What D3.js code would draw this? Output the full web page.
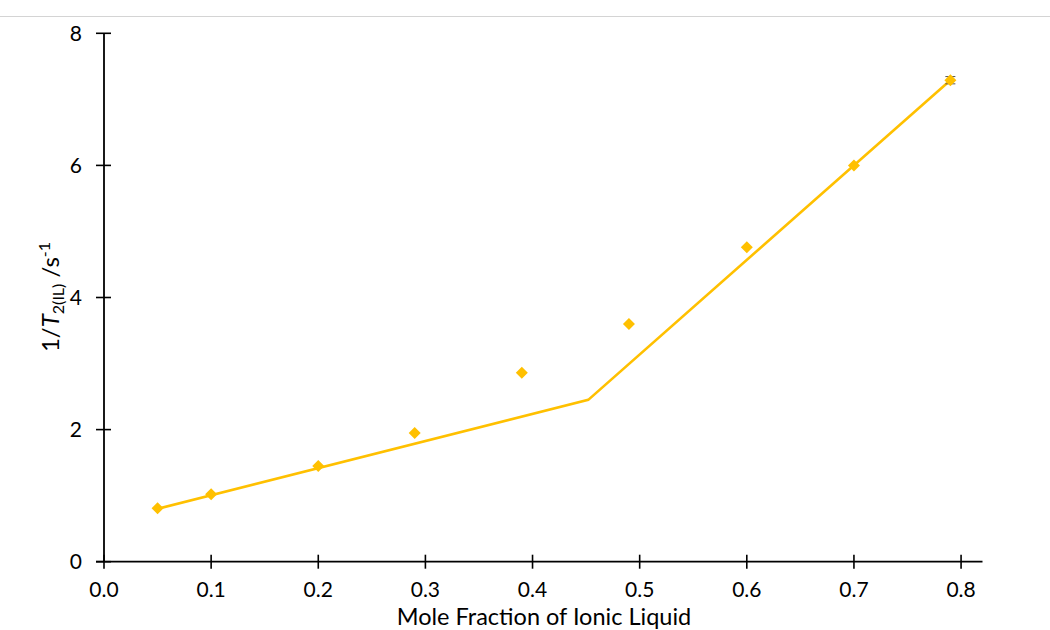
<!DOCTYPE html>
<html>
<head>
<meta charset="utf-8">
<script src="https://cdn.jsdelivr.net/npm/d3@7"></script>
<style>
  body { margin: 0; background: white; }
  text { font-family: Lato, "Open Sans", sans-serif; }
</style>
</head>
<body>
<div id="container"></div>
<script>
// measured points
const moleFraction = [0.05, 0.10, 0.20, 0.29, 0.39, 0.49, 0.60, 0.70, 0.79];
const invT2 = [0.81, 1.02, 1.45, 1.95, 2.86, 3.60, 4.76, 6.00, 7.29];
const invT2Err = [0, 0, 0, 0, 0, 0, 0, 0, 0.055];

// two-segment fit line
const fitX = [0.05, 0.452, 0.79];
const fitY = [0.80, 2.45, 7.29];

const xTicks = [0, 0.1, 0.2, 0.3, 0.4, 0.5, 0.6, 0.7, 0.8];
const yTicks = [0, 2, 4, 6, 8];

let w = 1050;
let h = 630;
const gold = "#FFC000";

let viz = d3.select("#container").append("svg")
    .attr("width", w)
    .attr("height", h)
    .style("display", "block");

// faint rule at the very top
viz.append("line")
    .attr("x1", 0).attr("x2", w)
    .attr("y1", 16.5).attr("y2", 16.5)
    .attr("stroke", "#d4d4d4")
    .attr("stroke-width", 1);

let x = d3.scaleLinear().domain([0, 0.82]).range([104, 982.5]);
let y = d3.scaleLinear().domain([0, 8]).range([561.7, 33.3]);

// axes
let xAxis = viz.append("g")
    .attr("transform", "translate(0," + y(0) + ")");
xAxis.append("line")
    .attr("x1", x(0) - 8).attr("x2", x.range()[1])
    .attr("stroke", "black").attr("stroke-width", 1.8);
xAxis.selectAll(".xt").data(xTicks).enter()
  .append("line")
    .attr("class", "xt")
    .attr("x1", d => x(d)).attr("x2", d => x(d))
    .attr("y1", -7).attr("y2", 7)
    .attr("stroke", "black").attr("stroke-width", 1.6);
xAxis.selectAll(".xl").data(xTicks).enter()
  .append("text")
    .attr("class", "xl")
    .attr("x", d => x(d))
    .attr("y", 35)
    .attr("text-anchor", "middle")
    .style("font-size", "21px")
    .text(d => d3.format(".1f")(d));

let yAxis = viz.append("g")
    .attr("transform", "translate(" + x(0) + ",0)");
yAxis.append("line")
    .attr("y1", y(8)).attr("y2", y(0))
    .attr("stroke", "black").attr("stroke-width", 1.8);
yAxis.selectAll(".yt").data(yTicks).enter()
  .append("line")
    .attr("class", "yt")
    .attr("y1", d => y(d)).attr("y2", d => y(d))
    .attr("x1", -8).attr("x2", 7)
    .attr("stroke", "black").attr("stroke-width", 1.6);
yAxis.selectAll(".yl").data(yTicks).enter()
  .append("text")
    .attr("class", "yl")
    .attr("x", -22)
    .attr("y", d => y(d))
    .attr("dy", "0.36em")
    .attr("text-anchor", "end")
    .style("font-size", "21px")
    .text(d => d);

// axis titles
viz.append("text")
    .attr("x", 544)
    .attr("y", 625)
    .attr("text-anchor", "middle")
    .style("font-size", "23.5px")
    .text("Mole Fraction of Ionic Liquid");

let yTitle = viz.append("text")
    .attr("transform", "translate(59,297) rotate(-90)")
    .attr("text-anchor", "middle")
    .style("font-size", "24px");
yTitle.append("tspan").text("1/");
yTitle.append("tspan").style("font-style", "italic").text("T");
yTitle.append("tspan").attr("dy", 5).style("font-size", "16px").text("2(IL)");
yTitle.append("tspan").attr("dy", -5).text(" /s");
yTitle.append("tspan").attr("dy", -9).style("font-size", "16px").text("-1");

// fit line
let lineMaker = d3.line()
    .x(d => x(d[0]))
    .y(d => y(d[1]));

viz.append("path")
    .datum(d3.zip(fitX, fitY))
    .attr("d", lineMaker)
    .attr("fill", "none")
    .attr("stroke", gold)
    .attr("stroke-width", 2.6);

// error bars (only visible on last point)
let pts = d3.zip(moleFraction, invT2, invT2Err);
let eb = viz.selectAll(".err").data(pts.filter(d => d[2] > 0)).enter()
  .append("g").attr("class", "err");
eb.append("line")
    .attr("x1", d => x(d[0])).attr("x2", d => x(d[0]))
    .attr("y1", d => y(d[1] + d[2])).attr("y2", d => y(d[1] - d[2]))
    .attr("stroke", "#555").attr("stroke-width", 1);
eb.selectAll(".cap").data(d => [[d[0], d[1] + d[2]], [d[0], d[1] - d[2]]]).enter()
  .append("line")
    .attr("x1", d => x(d[0]) - 5).attr("x2", d => x(d[0]) + 5)
    .attr("y1", d => y(d[1])).attr("y2", d => y(d[1]))
    .attr("stroke", "#555").attr("stroke-width", 1);

// markers
viz.selectAll(".pt").data(pts).enter()
  .append("path")
    .attr("class", "pt")
    .attr("d", d3.symbol().type(d3.symbolSquare).size(72))
    .attr("transform", d => "translate(" + x(d[0]) + "," + y(d[1]) + ") rotate(45)")
    .attr("fill", gold);
</script>
</body>
</html>
